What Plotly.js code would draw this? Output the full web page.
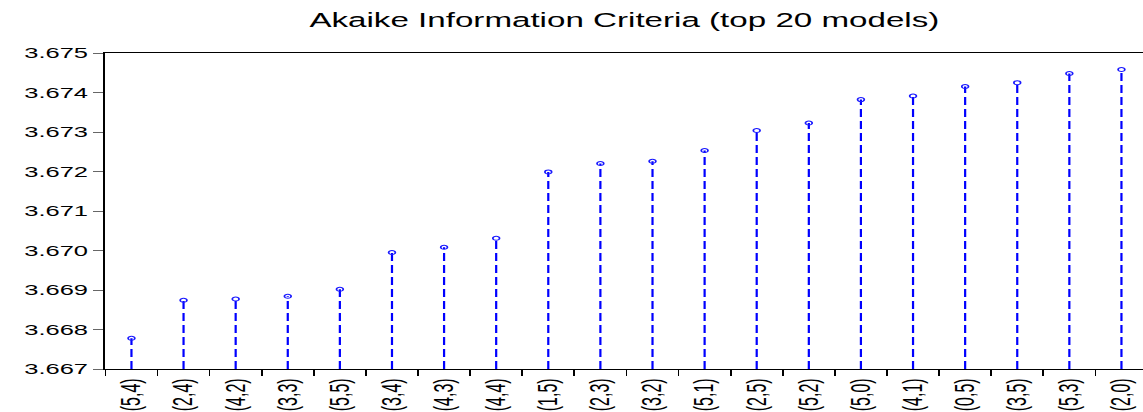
<!DOCTYPE html>
<html>
<head>
<meta charset="utf-8">
<script src="https://cdn.plot.ly/plotly-3.0.1.min.js"></script>
<style>
  html, body { margin: 0; padding: 0; background: #fff; overflow: hidden; width: 1143px; height: 412px; }
  #wrap { width: 1143px; height: 412px; overflow: hidden; }
  #chart { width: 675px; height: 412px; transform: scaleX(1.7); transform-origin: 0 0; }
</style>
</head>
<body>
<div id="wrap"><div id="chart"></div></div>
<script>
// Model orders (p,q) and their Akaike Information Criteria values
const models = ["(5,4)","(2,4)","(4,2)","(3,3)","(5,5)","(3,4)","(4,3)","(4,4)","(1,5)","(2,3)",
                "(3,2)","(5,1)","(2,5)","(5,2)","(5,0)","(4,1)","(0,5)","(3,5)","(5,3)","(2,0)"];
const aic = [3.66778, 3.66874, 3.66877, 3.66884, 3.66902, 3.66995, 3.67008, 3.67031, 3.67199, 3.67220,
             3.67226, 3.67253, 3.67304, 3.67323, 3.67382, 3.67391, 3.67415, 3.67425, 3.67448, 3.67458];
const baseValue = 3.667;
const yMax = 3.675;

// stems built from the data arrays
const stemX = [], stemY = [];
models.forEach((m, i) => {
  stemX.push(m, m, m);
  stemY.push(baseValue, aic[i], null);
});

const stems = {
  type: 'scatter', mode: 'lines', x: stemX, y: stemY,
  line: { color: '#0000ff', width: 1.3, dash: '8px,4px' },
  connectgaps: false, hoverinfo: 'skip', showlegend: false
};
const points = {
  type: 'scatter', mode: 'markers', x: models, y: aic,
  marker: { symbol: 'circle-open', size: 4, color: '#1a1aff', line: { width: 1, color: '#1a1aff' } },
  showlegend: false
};

const layout = {
  width: 675, height: 412,
  margin: { l: 62.3, r: 0, t: 52.5, b: 42.5, pad: 0 },
  paper_bgcolor: '#ffffff', plot_bgcolor: '#ffffff',
  font: { family: 'Liberation Sans, Arial, sans-serif', color: '#000' },
  title: {
    text: 'Akaike Information Criteria (top 20 models)',
    font: { size: 19.5, color: '#000', family: 'Liberation Sans, Arial, sans-serif' },
    xref: 'paper', x: 0.498, xanchor: 'center',
    yref: 'container', y: 0.952, yanchor: 'middle'
  },
  xaxis: {
    type: 'category', categoryorder: 'array', categoryarray: models,
    range: [-0.5, models.length - 0.5],
    showgrid: false, zeroline: false,
    showline: true, linecolor: '#000', linewidth: 1, mirror: true,
    ticks: 'outside', ticklen: 6, tickcolor: '#000', tickwidth: 1,
    tickson: 'boundaries', ticklabelstandoff: 2,
    tickangle: -90, tickfont: { size: 16, color: '#000' }
  },
  yaxis: {
    range: [baseValue, yMax], dtick: 0.001, tick0: baseValue, tickformat: '.3f',
    showgrid: false, zeroline: false,
    showline: true, linecolor: '#000', linewidth: 1.2,
    ticks: 'outside', ticklen: 6, tickcolor: '#666', tickwidth: 1,
    ticklabelstandoff: 3.5,
    tickfont: { size: 15, color: '#000' }
  }
};

Plotly.newPlot('chart', [stems, points], layout, { staticPlot: true, displayModeBar: false });
</script>
</body>
</html>
